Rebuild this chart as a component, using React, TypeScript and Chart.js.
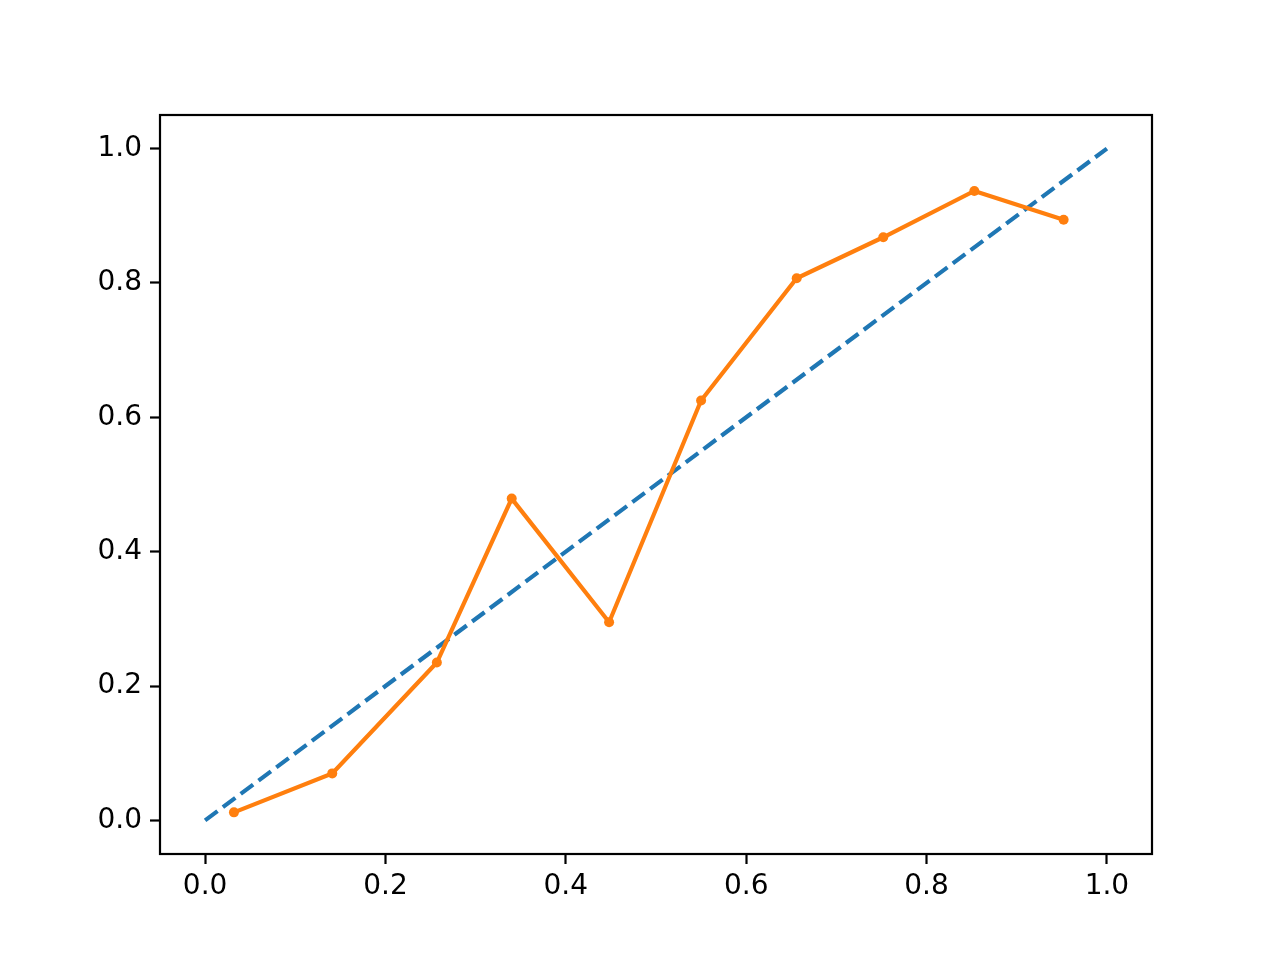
import React, { useEffect, useRef } from 'react';
import Chart from 'chart.js/auto';

// calibration curve values
const meanPredicted = [0.032, 0.141, 0.257, 0.34, 0.448, 0.55, 0.656, 0.752, 0.853, 0.952];
const fractionPositives = [0.012, 0.07, 0.235, 0.479, 0.295, 0.625, 0.807, 0.868, 0.937, 0.894];
const diagonalX = [0, 1];
const diagonalY = [0, 1];
const xTicks = [0, 0.2, 0.4, 0.6, 0.8, 1.0];
const yTicks = [0, 0.2, 0.4, 0.6, 0.8, 1.0];

const framePlugin = {
  id: 'frame',
  afterDraw(chart: any) {
    const { ctx, chartArea } = chart;
    const { left, top, right, bottom } = chartArea;
    ctx.save();
    ctx.strokeStyle = '#000';
    ctx.lineWidth = 2.2;
    ctx.strokeRect(left, top, right - left, bottom - top);
    ctx.restore();
  },
};

const App: React.FC = () => {
  const chartRef = useRef<HTMLCanvasElement>(null);
  const chartInstance = useRef<Chart | null>(null);

  useEffect(() => {
    if (!chartRef.current) return;
    if (chartInstance.current) chartInstance.current.destroy();

    const ctx = chartRef.current.getContext('2d');
    if (!ctx) return;

    const font = { family: 'DejaVu Sans', size: 28 };
    const gridOpts = {
      display: true,
      drawOnChartArea: false,
      drawTicks: true,
      tickLength: 10,
      tickWidth: 2.2,
      tickColor: '#000',
    };

    chartInstance.current = new Chart(ctx, {
      type: 'line',
      data: {
        datasets: [
          {
            label: 'Calibration',
            data: meanPredicted.map((x, i) => ({ x, y: fractionPositives[i] })),
            borderColor: '#ff7f0e',
            backgroundColor: '#ff7f0e',
            borderWidth: 4.2,
            pointRadius: 5,
            pointBorderWidth: 0,
            pointBackgroundColor: '#ff7f0e',
            tension: 0,
            order: 1,
          },
          {
            label: 'Perfectly calibrated',
            data: diagonalX.map((x, i) => ({ x, y: diagonalY[i] })),
            borderColor: '#1f77b4',
            borderWidth: 4.2,
            borderDash: [15.5, 6.7],
            pointRadius: 0,
            order: 2,
          },
        ],
      },
      options: {
        animation: false,
        responsive: true,
        maintainAspectRatio: false,
        devicePixelRatio: 1,
        layout: { padding: { left: 0, top: 115, right: 128, bottom: 0 } },
        plugins: {
          legend: { display: false },
          tooltip: { enabled: false },
        },
        scales: {
          x: {
            type: 'linear',
            min: -0.05,
            max: 1.05,
            border: { display: false },
            grid: gridOpts,
            afterBuildTicks: (scale: any) => {
              scale.ticks = xTicks.map((v) => ({ value: v }));
            },
            afterFit: (scale: any) => {
              scale.height = 106;
            },
            ticks: {
              color: '#000',
              font,
              padding: 6,
              maxRotation: 0,
              callback: (v: any) => Number(v).toFixed(1),
            },
          },
          y: {
            type: 'linear',
            min: -0.05,
            max: 1.05,
            border: { display: false },
            grid: gridOpts,
            afterBuildTicks: (scale: any) => {
              scale.ticks = yTicks.map((v) => ({ value: v }));
            },
            afterFit: (scale: any) => {
              scale.width = 160;
            },
            ticks: {
              color: '#000',
              font,
              padding: 8,
              callback: (v: any) => Number(v).toFixed(1),
            },
          },
        },
      },
      plugins: [framePlugin],
    });

    return () => {
      if (chartInstance.current) {
        chartInstance.current.destroy();
        chartInstance.current = null;
      }
    };
  }, []);

  return (
    <div style={{ position: 'absolute', left: 0, top: 0, width: 1280, height: 960, background: '#fff' }}>
      <canvas ref={chartRef}></canvas>
    </div>
  );
};

export default App;
